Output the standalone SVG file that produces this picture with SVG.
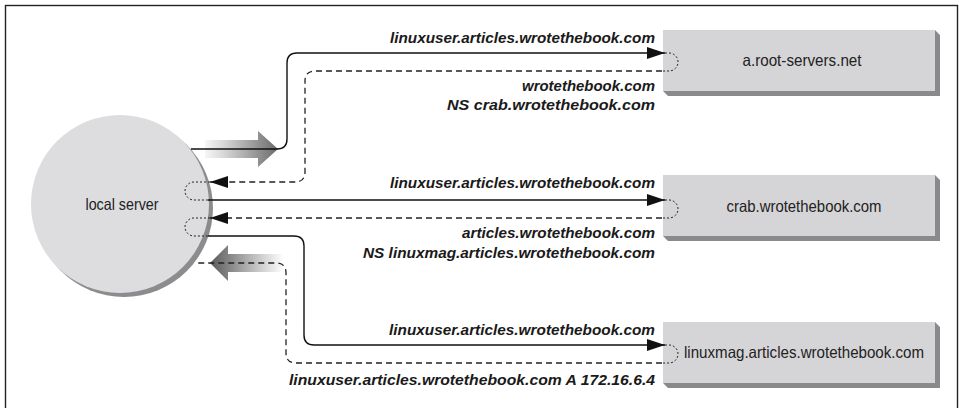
<svg xmlns="http://www.w3.org/2000/svg" width="959" height="408" viewBox="0 0 959 408">
<style>
.lbl{font-family:"Liberation Sans",Arial,sans-serif;font-weight:bold;font-style:italic;font-size:15px;fill:#1a1a1a;text-anchor:end}
.ntx{font-family:"Liberation Sans",Arial,sans-serif;font-size:16.5px;fill:#222;text-anchor:middle}
.sol{fill:none;stroke:#111;stroke-width:1.4}
.dsh{fill:none;stroke:#222;stroke-width:1.3;stroke-dasharray:6 4}
.dot{fill:none;stroke:#222;stroke-width:1;stroke-dasharray:2 2}
.box{fill:#d5d5d7}
.shd{fill:#8a8a8c}
</style>
<defs>
<marker id="ah" viewBox="0 0 18 12" refX="18" refY="6" markerWidth="18" markerHeight="12" markerUnits="userSpaceOnUse" orient="auto">
<path d="M0,0 L18,6 L0,12 z" fill="#111"/>
</marker>
<linearGradient id="gR" gradientUnits="userSpaceOnUse" x1="200" y1="0" x2="278" y2="0">
<stop offset="0" stop-color="#ffffff"/>
<stop offset="0.3" stop-color="#d8d8d8"/>
<stop offset="1" stop-color="#6a6a6a"/>
</linearGradient>
<linearGradient id="gL" gradientUnits="userSpaceOnUse" x1="210" y1="0" x2="284" y2="0">
<stop offset="0" stop-color="#5a5a5a"/>
<stop offset="0.7" stop-color="#d0d0d0"/>
<stop offset="1" stop-color="#ffffff"/>
</linearGradient>
</defs>
<rect x="5.5" y="5.5" width="952" height="420" fill="#fff" stroke="#222" stroke-width="1.4"/>

<g id="local-server">
<circle cx="124" cy="208" r="89" fill="#8c8c8e"/>
<circle cx="120" cy="204" r="89" fill="#dddddf"/>
<text class="ntx" x="122" y="210" font-size="17" textLength="73" lengthAdjust="spacingAndGlyphs">local server</text>
</g>

<g id="a-root-servers">
<polygon class="shd" points="935,30 940,35 940,96 668,96 663,91 935,91"/>
<rect class="box" x="663" y="30" width="272" height="61"/>
<text class="ntx" x="802" y="66" textLength="119" lengthAdjust="spacingAndGlyphs">a.root-servers.net</text>
</g>

<g id="crab">
<polygon class="shd" points="935,175 940,180 940,241 668,241 663,236 935,236"/>
<rect class="box" x="663" y="175" width="272" height="61"/>
<text class="ntx" x="804" y="212" textLength="155" lengthAdjust="spacingAndGlyphs">crab.wrotethebook.com</text>
</g>

<g id="linuxmag">
<polygon class="shd" points="935,322 940,327 940,388 668,388 663,383 935,383"/>
<rect class="box" x="663" y="322" width="272" height="61"/>
<text class="ntx" x="804" y="358" textLength="240" lengthAdjust="spacingAndGlyphs">linuxmag.articles.wrotethebook.com</text>
</g>

<g id="flow-arrows">
<polygon points="205,140 258,140 258,131 278,149 258,167 258,158 205,158" fill="url(#gR)"/>
<polygon points="210,263 228,245 228,254 284,254 284,272 228,272 228,281" fill="url(#gL)"/>
</g>

<g id="connectors">
<path class="sol" d="M191,149 H277 Q287,149 287,139 V63 Q287,53 297,53 H665" marker-end="url(#ah)"/>
<path class="dot" d="M665,53 H669 A9,9 0 0 1 669,71 H662"/>
<path class="dsh" d="M662,71 H315 Q305,71 305,81 V172 Q305,182 295,182 H210" marker-end="url(#ah)"/>
<path class="dot" d="M210,182 H194 A9,9 0 0 0 194,200 H208"/>

<path class="sol" d="M208,200 H665" marker-end="url(#ah)"/>
<path class="dot" d="M665,200 H669 A9,9 0 0 1 669,218 H662"/>
<path class="dsh" d="M662,218 H210" marker-end="url(#ah)"/>
<path class="dot" d="M210,218 H194 A9,9 0 0 0 194,236 H208"/>

<path class="sol" d="M208,236 H294 Q304,236 304,246 V335 Q304,345 314,345 H665" marker-end="url(#ah)"/>
<path class="dot" d="M665,345 H669 A9,9 0 0 1 669,363 H662"/>
<path class="dsh" d="M662,363 H296 Q286,363 286,353 V273 Q286,263 276,263 H197"/>
</g>

<g id="labels">
<text class="lbl" x="655" y="43" textLength="265" lengthAdjust="spacingAndGlyphs">linuxuser.articles.wrotethebook.com</text>
<text class="lbl" x="655" y="91" textLength="133" lengthAdjust="spacingAndGlyphs">wrotethebook.com</text>
<text class="lbl" x="655" y="110" textLength="208" lengthAdjust="spacingAndGlyphs">NS crab.wrotethebook.com</text>
<text class="lbl" x="655" y="188" textLength="265" lengthAdjust="spacingAndGlyphs">linuxuser.articles.wrotethebook.com</text>
<text class="lbl" x="655" y="238" textLength="193" lengthAdjust="spacingAndGlyphs">articles.wrotethebook.com</text>
<text class="lbl" x="655" y="258" textLength="292" lengthAdjust="spacingAndGlyphs">NS linuxmag.articles.wrotethebook.com</text>
<text class="lbl" x="655" y="335" textLength="266" lengthAdjust="spacingAndGlyphs">linuxuser.articles.wrotethebook.com</text>
<text class="lbl" x="655" y="385" textLength="366" lengthAdjust="spacingAndGlyphs">linuxuser.articles.wrotethebook.com A 172.16.6.4</text>
</g>
</svg>
